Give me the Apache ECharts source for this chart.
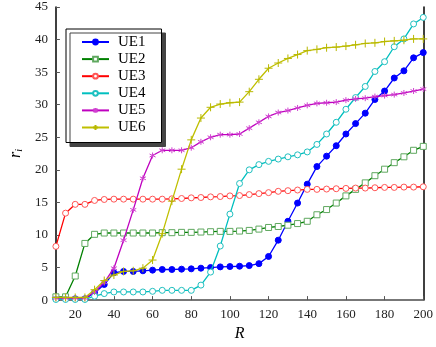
<!DOCTYPE html>
<html><head><meta charset="utf-8">
<script src="https://cdn.jsdelivr.net/npm/echarts@6/dist/echarts.min.js"></script>
<style>html,body{margin:0;padding:0;background:#fff}#c{width:436px;height:347px}</style>
</head><body><div id="c"></div>
<script>
const xs = [10,15,20,25,30,35,40,45,50,55,60,65,70,75,80,85,90,95,100,105,110,115,120,125,130,135,140,145,150,155,160,165,170,175,180,185,190,195,200];
const ue1 = [0.2,0.2,0.2,0.2,1.1,2.4,4.2,4.4,4.4,4.5,4.6,4.7,4.7,4.75,4.8,4.9,5.0,5.1,5.15,5.2,5.3,5.6,6.7,9.2,12.1,14.9,17.8,20.5,22.1,23.7,25.5,27.1,28.7,30.8,32.1,34.1,35.2,37.2,38.0];
const ue2 = [0.5,0.5,3.7,8.7,10.1,10.3,10.3,10.3,10.3,10.3,10.3,10.35,10.35,10.4,10.4,10.45,10.5,10.55,10.55,10.6,10.7,10.9,11.15,11.3,11.5,11.75,12.1,13.1,13.9,14.9,16.0,17.0,18.0,19.1,20.1,21.1,22.0,23.0,23.6];
const ue3 = [8.25,13.35,14.7,14.7,15.3,15.45,15.5,15.5,15.5,15.5,15.5,15.5,15.55,15.6,15.7,15.75,15.85,15.9,16.0,16.05,16.2,16.35,16.5,16.7,16.8,16.9,17.0,17.0,17.05,17.1,17.15,17.2,17.2,17.25,17.3,17.3,17.35,17.35,17.4];
const ue4 = [0.1,0.1,0.1,0.1,0.6,1.0,1.25,1.25,1.25,1.25,1.35,1.5,1.5,1.5,1.5,2.3,4.3,8.3,13.2,17.9,20.0,20.8,21.3,21.65,22.0,22.3,22.75,23.9,25.5,27.3,29.3,31.1,32.8,35.1,36.6,38.9,40.1,42.4,43.4];
const ue5 = [0.3,0.3,0.3,0.3,1.25,2.7,4.9,9.2,13.85,18.7,22.2,23.0,23.0,23.0,23.4,24.3,25.0,25.4,25.4,25.5,26.4,27.3,28.2,28.8,29.1,29.5,29.9,30.2,30.3,30.4,30.7,30.9,31.0,31.25,31.4,31.55,31.8,32.1,32.4];
const ue6 = [0.4,0.4,0.4,0.4,1.6,3.0,3.85,4.4,4.5,4.9,6.15,10.2,15.2,20.1,24.6,27.95,29.6,30.1,30.3,30.4,32.0,33.9,35.6,36.4,37.1,37.7,38.3,38.5,38.75,38.85,39.0,39.2,39.4,39.5,39.7,39.8,39.9,40.1,40.1];
const names = ['UE1','UE2','UE3','UE4','UE5','UE6'];
const xTicks = [20,40,60,80,100,120,140,160,180,200];

const PLUS = 'path://M0,-10 L0,10 M-10,0 L10,0';
const STAR = 'path://M0,-10 L0,10 M-8.7,-5 L8.7,5 M-8.7,5 L8.7,-5';
const styles = [
  {line:'#0000ff', sym:'circle', fill:'#0000ff', border:'#0000ff', size:6},
  {line:'#008000', sym:'rect', fill:'#ffffff', border:'#5fa85f', size:6},
  {line:'#ff0000', sym:'circle', fill:'#ffffff', border:'#ff5555', size:6},
  {line:'#00bfbf', sym:'circle', fill:'#ffffff', border:'#20c0c0', size:6},
  {line:'#bf00bf', sym:STAR, fill:'none', border:'#d040d0', size:6},
  {line:'#bfbf00', sym:PLUS, fill:'none', border:'#b8b800', size:8}
];
const vals = [ue1,ue2,ue3,ue4,ue5,ue6];
const font = '"Liberation Serif","DejaVu Serif",serif';

const series = vals.map((v,i)=>({
  name: names[i], type:'line',
  data: xs.map((x,j)=>[x,v[j]]),
  symbol: styles[i].sym, symbolSize: styles[i].size, showSymbol:true,
  lineStyle:{color:styles[i].line, width:1.3},
  itemStyle:{color:styles[i].fill, borderColor:styles[i].border, borderWidth:1},
  emphasis:{disabled:true},
  animation:false, z: 2+i
}));

const chart = echarts.init(document.getElementById('c'), null, {renderer:'canvas'});
chart.setOption({
  animation:false,
  backgroundColor:'#fff',
  grid:{left:33, right:12, top:7, bottom:34, show:false},
  legend:{
    orient:'vertical', left:66, top:29,
    data:names,
    itemWidth:27, itemHeight:6, itemGap:2.1,
    padding:[5.5,16,7.5,15],
    backgroundColor:'#fff', borderColor:'#000', borderWidth:1,
    shadowColor:'#444', shadowBlur:0, shadowOffsetX:4, shadowOffsetY:4,
    textStyle:{fontFamily:font, fontSize:15, lineHeight:15, color:'#000', padding:[0,0,0,4]}
  },
  xAxis:[{
    type:'value', min:10, max:200,
    name:'R', nameLocation:'middle', nameGap:21,
    nameTextStyle:{fontFamily:font, fontStyle:'italic', fontSize:16, color:'#000'},
    axisLine:{show:true, lineStyle:{color:'#000', width:1.5}},
    axisTick:{show:true, inside:true, length:4, customValues:xTicks, lineStyle:{color:'#555'}},
    axisLabel:{customValues:xTicks, fontFamily:font, fontSize:13, color:'#222', margin:8},
    splitLine:{show:false}
  },{
    type:'value', min:10, max:200, position:'top',
    axisLine:{show:true, lineStyle:{color:'#777', width:2}},
    axisTick:{show:false}, axisLabel:{show:false}, splitLine:{show:false}
  }],
  yAxis:[{
    type:'value', min:0, max:45, interval:5,
    name:'{a|r}{b|i}', nameLocation:'middle', nameGap:19, nameRotate:90,
    nameTextStyle:{rich:{a:{fontFamily:font, fontStyle:'italic', fontSize:16, color:'#000'}, b:{fontFamily:font, fontStyle:'italic', fontSize:10, color:'#000', padding:[6,0,0,0]}}},
    axisLine:{show:true, lineStyle:{color:'#000', width:1.5}},
    axisTick:{show:true, inside:true, length:4, lineStyle:{color:'#555'}},
    axisLabel:{fontFamily:font, fontSize:13, color:'#222', margin:8},
    splitLine:{show:false}
  },{
    type:'value', min:0, max:45, interval:5, position:'right',
    axisLine:{show:true, lineStyle:{color:'#000', width:1.5}},
    axisTick:{show:false}, axisLabel:{show:false}, splitLine:{show:false}
  }],
  series: series
});
</script></body></html>
